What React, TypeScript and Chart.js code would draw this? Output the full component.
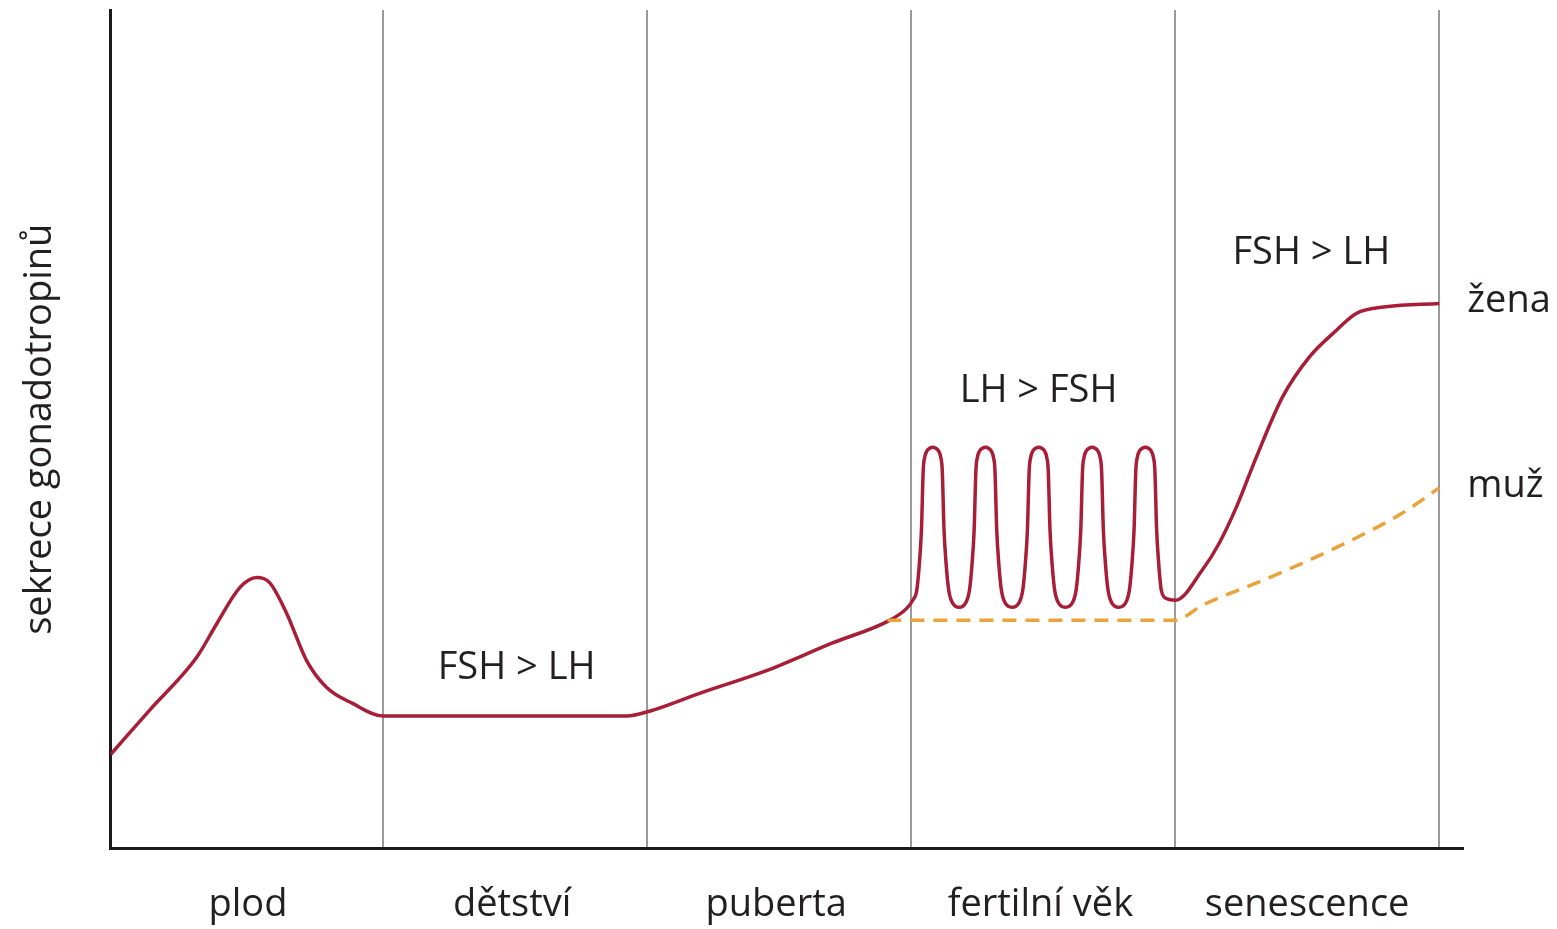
import React, { useEffect, useRef } from "react";
import { Chart, registerables } from "chart.js";

Chart.register(...registerables);

const FONT = "'Open Sans', 'Noto Sans', sans-serif";
const TEXT = "#231f20";
const FS = 38;

const stages = ["plod", "dětství", "puberta", "fertilní věk", "senescence"];
const stageCenters = [0.49, 1.49, 2.49, 3.49, 4.5];
const stageBoundaries = [1, 2, 3, 4, 5];

const yTitle = "sekrece gonadotropinů";

// Woman (žena) – red curve
const womanX = [
  -0.03, 0.118, 0.296, 0.372, 0.459, 0.523, 0.572, 0.637, 0.712, 0.788, 0.886, 1.0,
  1.924, 2.003, 2.2, 2.453, 2.703, 2.919, 2.983,
  3.0068, 3.022, 3.0314, 3.0397, 3.0465, 3.0522, 3.0598, 3.0711, 3.0825, 3.0939, 3.1052, 3.1128, 3.1185, 3.1253, 3.1336, 3.143, 3.1582, 3.1824,
  3.2063, 3.2215, 3.2309, 3.2392, 3.246, 3.2517, 3.2593, 3.2706, 3.282, 3.2934, 3.3047, 3.3123, 3.318, 3.3248, 3.3331, 3.3425, 3.3577, 3.383,
  3.408, 3.4232, 3.4326, 3.4409, 3.4477, 3.4534, 3.461, 3.4723, 3.4837, 3.4951, 3.5064, 3.514, 3.5197, 3.5265, 3.5348, 3.5442, 3.5594, 3.5847,
  3.61, 3.6252, 3.6346, 3.6429, 3.6497, 3.6554, 3.663, 3.6743, 3.6857, 3.6971, 3.7084, 3.716, 3.7217, 3.7285, 3.7368, 3.7462, 3.7614, 3.7864,
  3.8117, 3.8269, 3.8363, 3.8446, 3.8514, 3.8571, 3.8647, 3.876, 3.8874, 3.8988, 3.9101, 3.9177, 3.9234, 3.9302, 3.9385, 3.9479, 3.967, 4.001,
  4.103, 4.167, 4.232, 4.308, 4.406, 4.508, 4.611, 4.686, 4.799, 5.0,
];
const womanY = [
  11.2, 16.5, 22.8, 26.8, 31.1, 32.3, 31.7, 28.0, 22.4, 19.2, 17.3, 15.8,
  15.8, 16.3, 18.5, 21.2, 24.5, 27.2, 28.6,
  29.6, 30.79, 33.77, 37.95, 45.11, 46.66, 47.37, 47.73, 47.85, 47.73, 47.37, 46.66, 45.11, 37.95, 33.77, 30.79, 29.24, 28.76,
  29.24, 30.79, 33.77, 37.95, 45.11, 46.66, 47.37, 47.73, 47.85, 47.73, 47.37, 46.66, 45.11, 37.95, 33.77, 30.79, 29.24, 28.76,
  29.24, 30.79, 33.77, 37.95, 45.11, 46.66, 47.37, 47.73, 47.85, 47.73, 47.37, 46.66, 45.11, 37.95, 33.77, 30.79, 29.24, 28.76,
  29.24, 30.79, 33.77, 37.95, 45.11, 46.66, 47.37, 47.73, 47.85, 47.73, 47.37, 46.66, 45.11, 37.95, 33.77, 30.79, 29.24, 28.76,
  29.24, 30.79, 33.77, 37.95, 45.11, 46.66, 47.37, 47.73, 47.85, 47.73, 47.37, 46.66, 45.11, 37.95, 33.77, 30.79, 29.8, 29.6,
  33.2, 36.4, 40.7, 46.7, 53.8, 58.6, 61.8, 63.8, 64.6, 65.0,
];

// Man (muž) – orange dashed curve
const manX = [2.911, 4.0, 4.103, 4.357, 4.611, 4.861, 5.0];
const manY = [27.2, 27.2, 29.0, 32.3, 35.9, 40.0, 43.0];

const seriesLabels = ["žena", "muž"];

// Annotation texts placed in data coordinates
const noteTexts = ["FSH > LH", "LH > FSH", "FSH > LH"];
const noteX = [1.507, 3.483, 4.516];
const noteY = [21.5, 54.5, 71.0];

const RED = "#a81e37";
const ORANGE = "#eaa23a";

const textPlugin = {
  id: "textPlugin",
  afterDatasetsDraw(chart: any) {
    const { ctx } = chart;
    const xs = chart.scales.x;
    const ys = chart.scales.y;
    ctx.save();
    ctx.font = `${FS}px ${FONT}`;
    ctx.fillStyle = TEXT;
    ctx.textBaseline = "middle";
    ctx.textAlign = "center";
    noteTexts.forEach((t, i) => {
      ctx.fillText(t, xs.getPixelForValue(noteX[i]), ys.getPixelForValue(noteY[i]));
    });
    ctx.textAlign = "left";
    chart.data.datasets.forEach((ds: any) => {
      const last = ds.data[ds.data.length - 1];
      ctx.fillText(
        ds.label,
        xs.getPixelForValue(last.x) + 28,
        ys.getPixelForValue(last.y) - 2
      );
    });
    ctx.restore();
  },
};

export default function App() {
  const ref = useRef<HTMLCanvasElement | null>(null);

  useEffect(() => {
    if (!ref.current) return;
    Chart.defaults.font.family = FONT;
    const chart = new Chart(ref.current, {
      type: "line",
      data: {
        datasets: [
          {
            label: seriesLabels[1],
            data: manX.map((x, i) => ({ x, y: manY[i] })),
            borderColor: ORANGE,
            borderWidth: 3.5,
            borderDash: [14, 9],
            pointRadius: 0,
            cubicInterpolationMode: "monotone",
            fill: false,
          },
          {
            label: seriesLabels[0],
            data: womanX.map((x, i) => ({ x, y: womanY[i] })),
            borderColor: RED,
            borderWidth: 3.5,
            pointRadius: 0,
            cubicInterpolationMode: "monotone",
            fill: false,
          },
        ],
      },
      options: {
        animation: false,
        responsive: true,
        maintainAspectRatio: false,
        layout: { padding: { top: 10, right: 94, bottom: -33, left: 0 } },
        plugins: {
          legend: { display: false },
          tooltip: { enabled: false },
          title: { display: false },
        },
        scales: {
          x: {
            type: "linear",
            position: "bottom",
            min: -0.03,
            max: 5.09,
            weight: 0,
            afterBuildTicks: (s: any) => {
              s.ticks = stageBoundaries.map((v) => ({ value: v }));
            },
            ticks: { display: false },
            grid: { color: "#9a9a9a", lineWidth: 2, drawTicks: false },
            border: { color: "#1a1a1a", width: 3 },
          },
          xl: {
            type: "linear",
            position: "bottom",
            min: -0.03,
            max: 5.09,
            weight: 1,
            afterBuildTicks: (s: any) => {
              s.ticks = stageCenters.map((v) => ({ value: v }));
            },
            ticks: {
              callback: (_v: any, i: number) => stages[i],
              font: { size: FS, family: FONT },
              color: TEXT,
              padding: 34,
              autoSkip: false,
              maxRotation: 0,
            },
            grid: { display: false, drawTicks: false },
            border: { display: false },
          },
          y: {
            type: "linear",
            min: 0,
            max: 100,
            ticks: { display: false },
            grid: { display: false, drawTicks: false },
            border: { color: "#1a1a1a", width: 3 },
            title: {
              display: true,
              text: yTitle,
              font: { size: FS, family: FONT },
              color: TEXT,
              padding: { top: 17, bottom: 48 },
            },
          },
        },
      },
      plugins: [textPlugin],
    } as any);
    return () => chart.destroy();
  }, []);

  return (
    <div style={{ position: "absolute", left: 0, top: 0, width: 1557, height: 929, background: "#fff" }}>
      <canvas ref={ref} />
    </div>
  );
}
